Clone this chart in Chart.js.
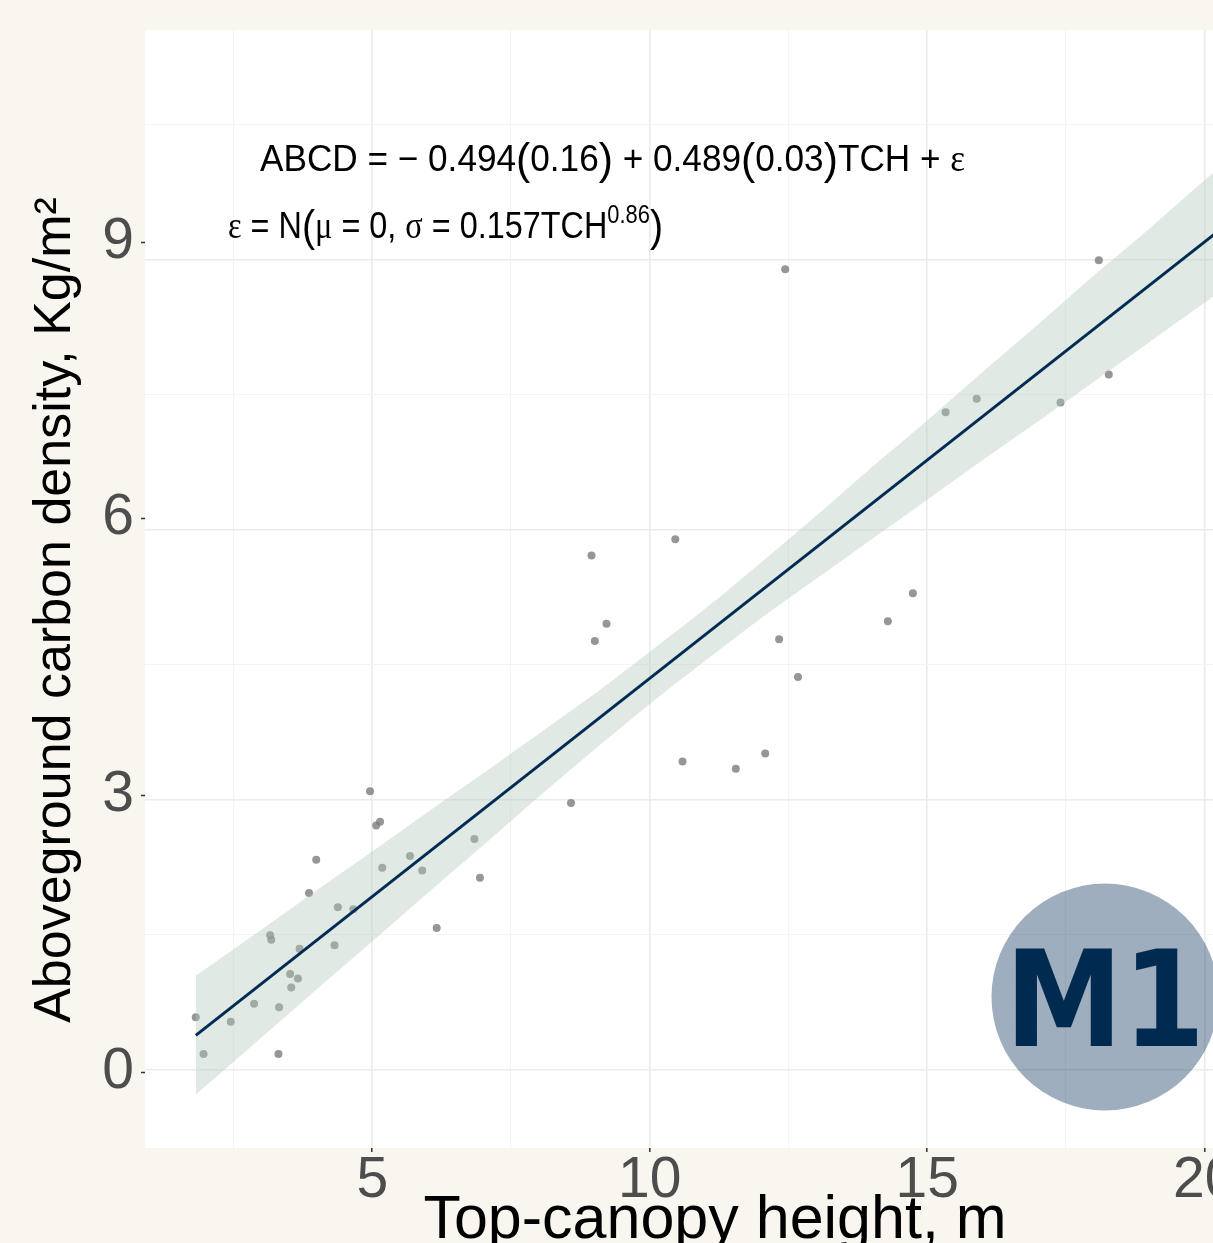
<!DOCTYPE html>
<html><head><meta charset="utf-8">
<script src="https://cdn.jsdelivr.net/npm/chart.js@4.4.1/dist/chart.umd.min.js"></script>
<style>
html,body{margin:0;padding:0;overflow:hidden;background:#f8f6ee;width:1213px;height:1243px;}
#wrap{position:absolute;left:0;top:0;width:1300px;height:1290px;}
</style></head><body>
<div id="wrap"><canvas id="c"></canvas></div>
<script>
// observed points: top-canopy height (m) vs aboveground carbon density (Kg/m2)
const tchX = [1.82,1.96,2.45,2.87,3.32,3.31,3.16,3.18,3.52,3.54,3.66,3.69,3.86,3.99,4.32,4.38,4.66,4.96,5.07,5.14,5.18,5.68,5.90,6.16,6.84,6.94,8.58,8.95,9.01,9.22,10.46,10.59,11.55,12.08,12.33,12.67,12.44,14.29,14.74,15.33,15.89,17.40,18.09,18.27];
const acdY = [0.58,0.17,0.53,0.73,0.69,0.17,1.49,1.44,1.06,0.91,1.01,1.34,1.96,2.33,1.38,1.80,1.78,3.09,2.71,2.75,2.24,2.37,2.21,1.57,2.56,2.13,2.96,5.71,4.76,4.95,5.89,3.42,3.34,3.51,4.78,4.36,8.89,4.98,5.29,7.30,7.45,7.41,8.99,7.72];
// fitted line (end points)
const fitX = [1.82, 21.4];
const fitY = [0.378, 9.874];
// confidence band
const bandX =     [1.82, 3,    4,    5,    6,    7,    8,    9,    10,   11,   12,   13,   14,   15,   16,   17,   18,   19,   20,   21.4];
const bandUpper = [1.04, 1.55, 1.99, 2.42, 2.86, 3.29, 3.73, 4.17, 4.64, 5.12, 5.63, 6.15, 6.69, 7.21, 7.75, 8.28, 8.82, 9.34, 9.88, 10.61];
const bandLower = [-0.28,0.35, 0.89, 1.42, 1.96, 2.49, 3.03, 3.55, 4.06, 4.54, 5.01, 5.45, 5.89, 6.33, 6.77, 7.20, 7.64, 8.08, 8.52, 9.13];
// axes
const xGridValues = [2.5, 5, 7.5, 10, 12.5, 15, 17.5, 20];
const xTickLabels = ['', '5', '', '10', '', '15', '', '20'];
const yGridValues = [0, 1.5, 3, 4.5, 6, 7.5, 9, 10.5];
const yTickValues = [0, 3, 6, 9];
const yTickLabels = ['0', '3', '6', '9'];
const xTitle = 'Top-canopy height, m';
const yTitle = 'Aboveground carbon density, Kg/m\u00B2';
const badgeText = 'M1';

const SANS = '"Liberation Sans", Arial, sans-serif';
const SERIF = '"Liberation Serif", "DejaVu Serif", serif';

function drawSegs(ctx, segs, x, y, targetWidth) {
  let total = 0;
  segs.forEach(s => { ctx.font = s.f; s.w = ctx.measureText(s.t).width; total += s.w; });
  const k = targetWidth / total;
  ctx.save();
  ctx.translate(x, y);
  ctx.scale(k, 1);
  ctx.fillStyle = '#000';
  ctx.textBaseline = 'alphabetic';
  ctx.textAlign = 'left';
  let cx = 0;
  segs.forEach(s => { ctx.font = s.f; ctx.fillText(s.t, cx, s.dy || 0); cx += s.w; });
  ctx.restore();
}

const bgPlugin = {
  id: 'bg',
  beforeDraw(chart) {
    const {ctx, chartArea: a} = chart;
    ctx.save();
    ctx.fillStyle = '#f8f6ee';
    ctx.fillRect(0, 0, chart.width, chart.height);
    ctx.fillStyle = '#ffffff';
    ctx.fillRect(a.left, a.top, a.right - a.left, a.bottom - a.top);
    ctx.restore();
  }
};

const decoPlugin = {
  id: 'deco',
  afterDraw(chart) {
    const ctx = chart.ctx;
    // y axis title
    ctx.save();
    ctx.translate(70, 610);
    ctx.rotate(-Math.PI / 2);
    ctx.font = '52px ' + SANS;
    ctx.fillStyle = '#000';
    ctx.textAlign = 'center';
    ctx.textBaseline = 'alphabetic';
    ctx.fillText(yTitle, 0, 0);
    ctx.restore();
    // equations
    const m = '37px ' + SANS, p = '45px ' + SANS, g = '37px ' + SERIF;
    drawSegs(ctx, [
      {t:'ABCD', f:m}, {t:' = ', f:m}, {t:'\u2212 0.494', f:m}, {t:'(', f:p, dy:3}, {t:'0.16', f:m}, {t:')', f:p, dy:3},
      {t:' + ', f:m}, {t:'0.489', f:m}, {t:'(', f:p, dy:3}, {t:'0.03', f:m}, {t:')', f:p, dy:3},
      {t:'TCH', f:m}, {t:' + ', f:m}, {t:'\u03B5', f:g}
    ], 260, 171, 705);
    drawSegs(ctx, [
      {t:'\u03B5', f:g}, {t:' = N', f:m}, {t:'(', f:p, dy:3}, {t:'\u03BC', f:g}, {t:' = 0, ', f:m},
      {t:'\u03C3', f:g}, {t:' = 0.157TCH', f:m}, {t:'0.86', f:'25px ' + SANS, dy:-15}, {t:')', f:p, dy:3}
    ], 228, 238, 435);
    // badge
    ctx.save();
    ctx.beginPath();
    ctx.arc(1105, 997, 113.5, 0, Math.PI * 2);
    ctx.fillStyle = 'rgba(0,42,84,0.38)';
    ctx.fill();
    ctx.font = 'bold 134px "DejaVu Sans", sans-serif';
    ctx.fillStyle = '#002a50';
    ctx.textAlign = 'left';
    ctx.textBaseline = 'alphabetic';
    ctx.fillText(badgeText, 1005, 1046, 200);
    ctx.restore();
  }
};

const isMajorX = i => xTickLabels[i] !== '';
const isMajorY = v => yTickValues.includes(v);

new Chart(document.getElementById('c'), {
  type: 'scatter',
  data: {
    datasets: [
      {
        label: 'observed',
        data: tchX.map((x, i) => ({x, y: acdY[i]})),
        pointRadius: 4,
        pointBackgroundColor: 'rgba(120,120,120,0.78)',
        pointBorderWidth: 0,
        order: 3
      },
      {
        label: 'upper',
        data: bandX.map((x, i) => ({x, y: bandUpper[i]})),
        showLine: true, pointRadius: 0, borderWidth: 0, borderColor: 'rgba(0,0,0,0)',
        backgroundColor: 'rgba(180,200,188,0.4)',
        cubicInterpolationMode: 'monotone',
        fill: '+1',
        order: 2
      },
      {
        label: 'lower',
        data: bandX.map((x, i) => ({x, y: bandLower[i]})),
        showLine: true, pointRadius: 0, borderWidth: 0, borderColor: 'rgba(0,0,0,0)',
        cubicInterpolationMode: 'monotone',
        fill: false,
        order: 2
      },
      {
        label: 'fit',
        data: fitX.map((x, i) => ({x, y: fitY[i]})),
        showLine: true, pointRadius: 0, borderWidth: 3, borderColor: '#002b54',
        fill: false,
        order: 1
      }
    ]
  },
  options: {
    responsive: true,
    maintainAspectRatio: false,
    animation: false,
    events: [],
    layout: {padding: {top: 30, right: 15, left: 0, bottom: 0}},
    plugins: {legend: {display: false}, tooltip: {enabled: false}},
    scales: {
      x: {
        type: 'linear', min: 0.905, max: 21.445,
        afterBuildTicks: s => { s.ticks = xGridValues.map(v => ({value: v})); },
        afterFit: s => { s.height = 142; s.paddingLeft = 0; s.paddingRight = 0; },
        ticks: {
          callback: (v, i) => xTickLabels[i],
          color: '#4d4d4d', font: {family: SANS, size: 57}, padding: -5,
          maxRotation: 0, minRotation: 0, autoSkip: false
        },
        grid: {
          color: c => isMajorX(c.index) ? '#ebebeb' : '#f4f4f4',
          lineWidth: c => isMajorX(c.index) ? 1.6 : 1.1,
          tickLength: 4,
          tickColor: c => isMajorX(c.index) ? '#333333' : 'rgba(0,0,0,0)',
          tickWidth: 1.5
        },
        border: {display: false},
        title: {display: true, text: xTitle, color: '#000', font: {family: SANS, size: 61}, padding: {top: 0, bottom: 32}}
      },
      // panel grid (data scale)
      y: {
        type: 'linear', position: 'left', min: -0.874, max: 11.548,
        afterBuildTicks: s => { s.ticks = yGridValues.map(v => ({value: v})); },
        afterFit: s => { s.width = 0; s.paddingTop = 0; s.paddingBottom = 0; },
        ticks: {display: false},
        grid: {
          color: c => isMajorY(c.tick.value) ? '#ebebeb' : '#f4f4f4',
          lineWidth: c => isMajorY(c.tick.value) ? 1.6 : 1.1,
          drawTicks: false
        },
        border: {display: false},
        title: {display: false}
      },
      // tick labels axis (as placed in the picture)
      yLab: {
        type: 'linear', position: 'left', display: true, min: -0.824, max: 11.30,
        afterBuildTicks: s => { s.ticks = yTickValues.map(v => ({value: v})); },
        afterFit: s => { s.width = 145; s.paddingTop = 0; s.paddingBottom = 0; },
        ticks: {
          callback: (v, i) => yTickLabels[i],
          color: '#4d4d4d', font: {family: SANS, size: 57}, padding: 7, autoSkip: false
        },
        grid: {drawOnChartArea: false, tickLength: 4, tickColor: '#333333', tickWidth: 1.5},
        border: {display: false},
        title: {display: false}
      }
    }
  },
  plugins: [bgPlugin, decoPlugin]
});
</script>
</body></html>
